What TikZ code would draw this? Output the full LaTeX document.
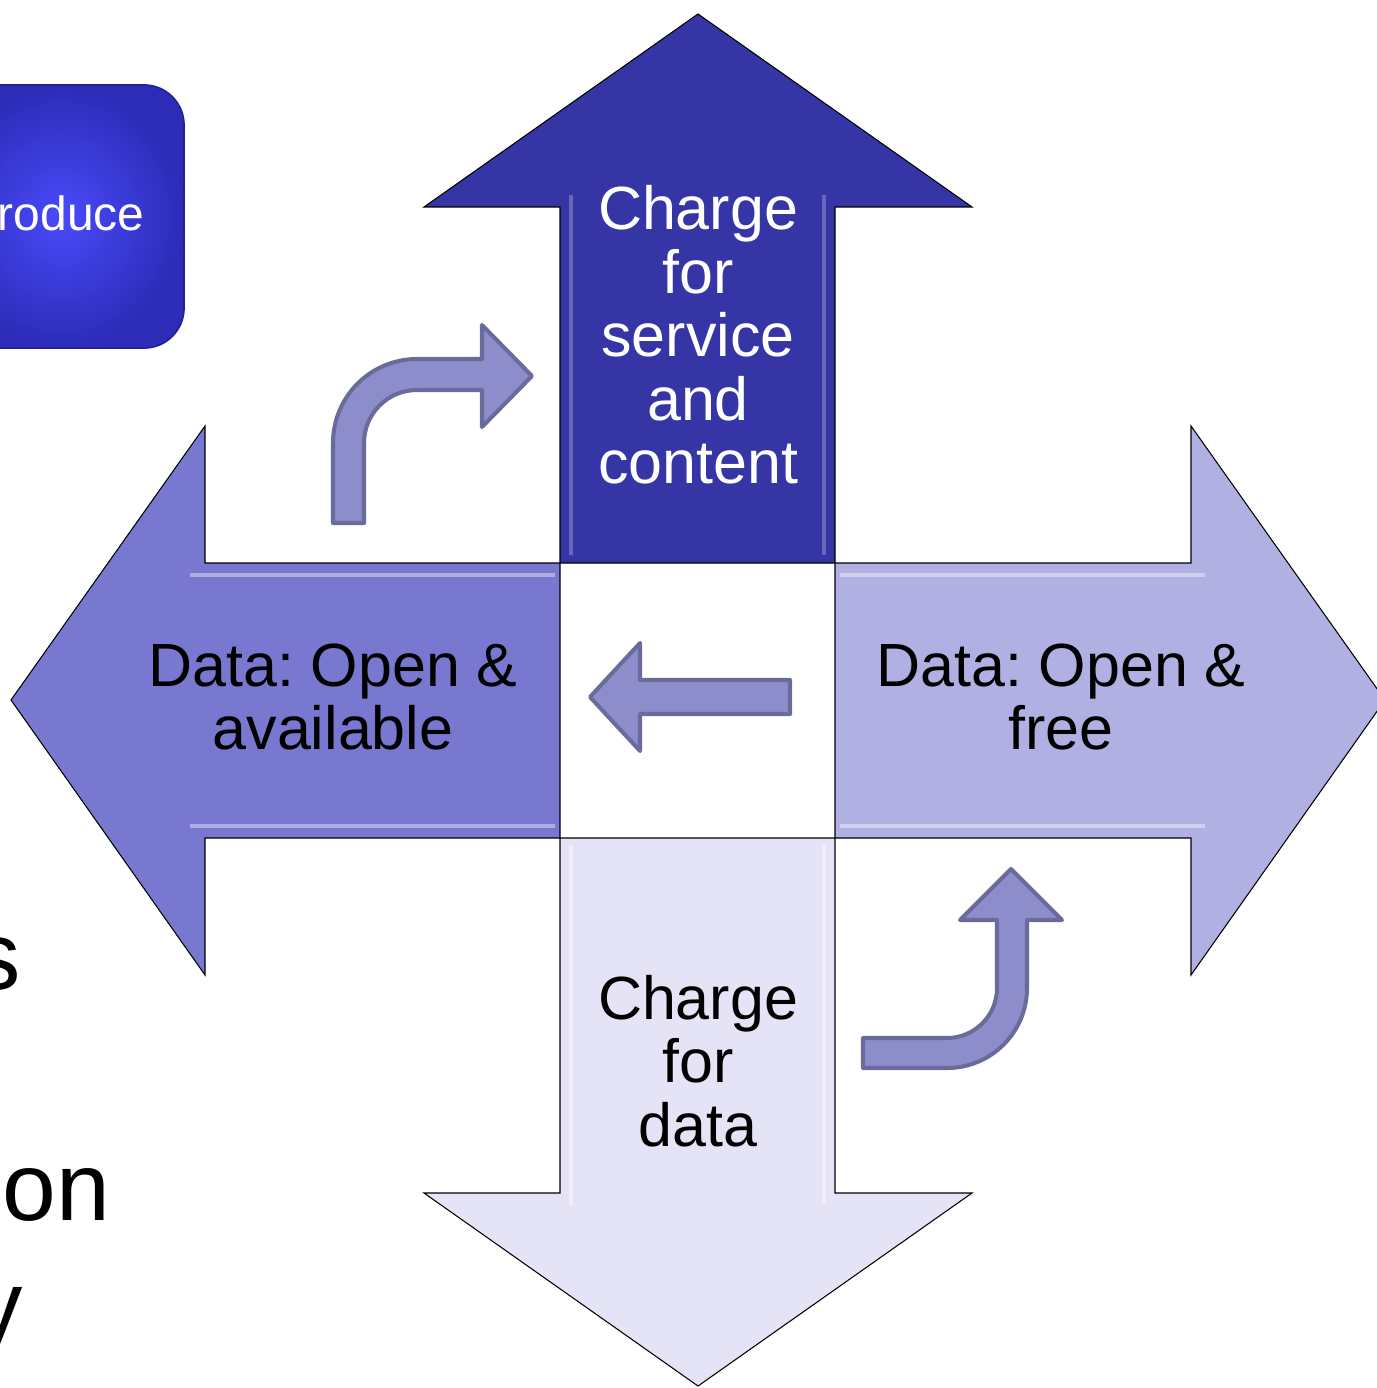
\documentclass[tikz,border=0pt]{standalone}
\usepackage{fontspec}
\setmainfont{Liberation Sans}
\usetikzlibrary{positioning}

\definecolor{upfill}{HTML}{3535A6}
\definecolor{leftfill}{HTML}{7878D0}
\definecolor{rightfill}{HTML}{B0B0E3}
\definecolor{downfill}{HTML}{E5E3F6}
\definecolor{turnfill}{HTML}{8D8DCC}
\definecolor{turnline}{HTML}{6B6B9B}
\definecolor{boxin}{HTML}{4A4AFA}
\definecolor{boxout}{HTML}{2C2CB8}

\tikzset{
  bigarrow/.style={draw=black, line width=0.6pt, line join=miter},
  glint/.style={white, opacity=0.4, line width=1.8pt},
  turnarrow/.style={fill=turnfill, draw=turnline, line width=2.3pt, line join=round},
  labeltxt/.style={font=\fontsize{34.7}{36.1}\selectfont\frenchspacing, align=center, inner sep=0pt},
  cuttxt/.style={font=\fontsize{55}{58}\selectfont, inner sep=0pt}
}

\begin{document}
\begin{tikzpicture}[x=0.02cm,y=-0.02cm]
\useasboundingbox (0,0) rectangle (1376,1388);

\shade[rounded corners=0.8cm, inner color=boxin, outer color=boxout, draw=boxout!80!black, line width=1pt]
  (-60,85) rectangle (184,348);
\node[font=\fontsize{27.3}{30}\selectfont, text=white, anchor=base east, inner sep=0pt] (produce) at (145,231) {roduce};

\node[cuttxt, anchor=base west] (cuts) at (-28,989) {s};
\node[cuttxt, anchor=base west] (cuton) at (2,1220) {on};
\node[cuttxt, anchor=base west] (cuty) at (-26,1338) {y};

\draw[bigarrow, fill=upfill] (560,563) -- (560,207) -- (424,207) -- (698,14) -- (972,207) -- (835,207) -- (835,563) -- cycle;
\draw[bigarrow, fill=downfill] (560,838) -- (560,1193) -- (424,1193) -- (698,1386) -- (972,1193) -- (835,1193) -- (835,838) -- cycle;
\draw[bigarrow, fill=leftfill] (560,563) -- (205,563) -- (205,426) -- (11,700) -- (205,975) -- (205,838) -- (560,838) -- cycle;
\draw[bigarrow, fill=rightfill] (835,563) -- (1191,563) -- (1191,426) -- (1385,700) -- (1191,975) -- (1191,838) -- (835,838) -- cycle;

\draw[glint, opacity=0.25] (571,195) -- (571,555);
\draw[glint, opacity=0.25] (824,195) -- (824,555);
\draw[glint] (571,845) -- (571,1205);
\draw[glint] (824,845) -- (824,1205);
\draw[glint] (190,575) -- (555,575);
\draw[glint] (190,826) -- (555,826);
\draw[glint] (840,575) -- (1205,575);
\draw[glint] (840,826) -- (1205,826);

\node[labeltxt, text=white] (service) at (698,335) {Charge\\for\\service\\and\\content};
\node[labeltxt] (available) at (333,697) {Data: Open \&\\available};
\node[labeltxt] (free) at (1061,697) {Data: Open \&\\free};
\node[labeltxt] (chargedata) at (698,1061) {Charge\\for\\data};

\draw[turnarrow] (790,680) -- (640,680) -- (640,643) -- (590,697) -- (640,751) -- (640,714) -- (790,714) -- cycle;

\draw[turnarrow] (333,523) -- (333,443) arc (180:270:84) -- (482,359) -- (482,325) -- (532,376) -- (482,427) -- (482,390) -- (417,390) arc (270:180:53) -- (364,523) -- cycle;

\draw[turnarrow] (863,1038) -- (947,1038) arc (90:0:50) -- (997,920) -- (960,920) -- (1011,869) -- (1062,920) -- (1027,920) -- (1027,988) arc (0:90:80) -- (863,1068) -- cycle;
\end{tikzpicture}
\end{document}
